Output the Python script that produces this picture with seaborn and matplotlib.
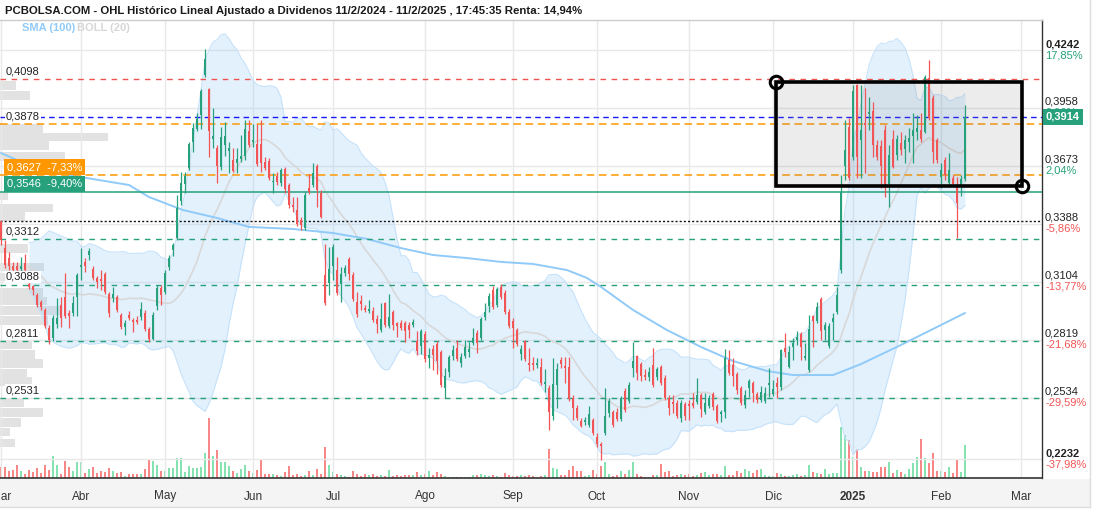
import numpy as np
import pandas as pd
import matplotlib
matplotlib.use("Agg")
import matplotlib.pyplot as plt
from matplotlib import font_manager
from matplotlib.patches import Rectangle
from matplotlib.lines import Line2D
import seaborn as sns

# ---------------- data ----------------
start_date = "2024-03-01"
end_date = "2025-03-03"
holidays = ["2024-03-29", "2024-04-01", "2024-05-01", "2024-12-25", "2024-12-26", "2025-01-01"]

opens = [
    .3397, .3269, .3220, .3181, .3181, .3166, .3196, .3092, .3082, .3038,
    .3004, .2965, .2876, .2827, .2896, .2989, .3028, .2950, .2950, .3028,
    .3176, .3201, .3235, .3166, .3122, .3117, .3142, .3043, .3024, .3028,
    .2940, .2881, .2940, .2916, .2916, .2930, .2950, .2871, .2822, .2984,
    .3073, .3053, .3176, .3260, .3318, .3500, .3584, .3662, .3790, .3854,
    .3923, .4119, .4051, .3805, .3761, .3667, .3775, .3746, .3702, .3687,
    .3707, .3721, .3844, .3790, .3780, .3780, .3692, .3697, .3594, .3623,
    .3589, .3658, .3579, .3481, .3456, .3407, .3368, .3564, .3579, .3672,
    .3540, .3137, .3097, .3181, .3161, .3092, .3146, .3215, .3137, .3004,
    .3009, .2975, .2960, .2960, .2920, .2867, .2999, .2886, .2955, .2901,
    .2901, .2901, .2891, .2891, .2812, .2788, .2847, .2729, .2773, .2798,
    .2758, .2581, .2660, .2739, .2778, .2704, .2739, .2758, .2802, .2852,
    .2827, .2930, .2984, .3063, .2989, .3078, .3048, .2955, .2911, .2867,
    .2748, .2812, .2704, .2704, .2694, .2685, .2601, .2581, .2444, .2596,
    .2719, .2690, .2685, .2532, .2483, .2419, .2414, .2400, .2424, .2341,
    .2306, .2360, .2459, .2463, .2463, .2429, .2567, .2517, .2680, .2739,
    .2699, .2645, .2635, .2694, .2635, .2685, .2630, .2532, .2513, .2508,
    .2434, .2503, .2503, .2508, .2513, .2547, .2463, .2493, .2552, .2493,
    .2454, .2463, .2719, .2694, .2650, .2581, .2498, .2581, .2606, .2552,
    .2522, .2517, .2596, .2552, .2606, .2586, .2778, .2685, .2783, .2817,
    .2847, .2729, .2670, .2935, .2911, .3019, .2867, .2788, .2906, .2955,
    .3161, .3672, .3864, .3716, .4070, .3800, .3884, .3928, .3943, .3775,
    .3771, .3849, .3584, .3805, .3726, .3785, .3756, .3790, .3820, .3839,
    .3849, .3839, .4105, .4006, .3800, .3618, .3702, .3589, .3613, .3579,
    .3579, .3608,
]
highs = [
    .3407, .3309, .3250, .3201, .3201, .3225, .3240, .3102, .3087, .3048,
    .3014, .2975, .2891, .2940, .3024, .3028, .3146, .2965, .3033, .3146,
    .3269, .3220, .3269, .3181, .3132, .3161, .3151, .3053, .3078, .3038,
    .2950, .2916, .2960, .2925, .2935, .3004, .2965, .2881, .2955, .3087,
    .3087, .3161, .3235, .3294, .3530, .3643, .3643, .3790, .3884, .3933,
    .4051, .4247, .4056, .3957, .3775, .3864, .3888, .3790, .3761, .3761,
    .3825, .3898, .3898, .3879, .3879, .3898, .3716, .3712, .3638, .3643,
    .3662, .3667, .3589, .3520, .3520, .3422, .3545, .3633, .3687, .3682,
    .3554, .3289, .3274, .3289, .3225, .3176, .3186, .3225, .3151, .3053,
    .3038, .2989, .3014, .2979, .2940, .2999, .3004, .3043, .2965, .2906,
    .2916, .2911, .2906, .2920, .2862, .2871, .2862, .2778, .2793, .2812,
    .2768, .2680, .2744, .2793, .2817, .2753, .2817, .2807, .2876, .2867,
    .2930, .2999, .3048, .3082, .3078, .3092, .3063, .2970, .2925, .2876,
    .2793, .2817, .2778, .2734, .2729, .2729, .2675, .2596, .2729, .2704,
    .2734, .2734, .2734, .2547, .2498, .2434, .2439, .2493, .2434, .2360,
    .2316, .2581, .2532, .2473, .2483, .2542, .2581, .2611, .2807, .2744,
    .2709, .2675, .2685, .2778, .2685, .2694, .2645, .2547, .2547, .2522,
    .2522, .2513, .2522, .2557, .2630, .2557, .2557, .2547, .2562, .2503,
    .2473, .2773, .2768, .2729, .2660, .2591, .2572, .2626, .2616, .2562,
    .2591, .2586, .2680, .2621, .2635, .2773, .2852, .2788, .2827, .2862,
    .2857, .2802, .2940, .2940, .3004, .3028, .2906, .2901, .2950, .3078,
    .3628, .3898, .3908, .4070, .4075, .4070, .4056, .4011, .3987, .3800,
    .3800, .3874, .3775, .3849, .3825, .3839, .3825, .3859, .3933, .3923,
    .3933, .4119, .4193, .4021, .3810, .3687, .3716, .3736, .3628, .3618,
    .3628, .3972,
]
lows = [
    .3284, .3171, .3161, .3151, .3156, .3156, .3151, .3068, .3038, .2979,
    .2965, .2876, .2798, .2812, .2876, .2881, .2925, .2876, .2935, .2935,
    .3112, .3151, .3210, .3112, .3073, .3063, .3043, .2930, .3004, .2955,
    .2871, .2842, .2916, .2857, .2896, .2916, .2862, .2807, .2817, .2965,
    .2989, .3043, .3161, .3230, .3309, .3481, .3540, .3653, .3741, .3844,
    .3854, .4110, .3716, .3761, .3589, .3653, .3721, .3638, .3643, .3638,
    .3692, .3702, .3766, .3766, .3672, .3643, .3653, .3603, .3540, .3579,
    .3574, .3540, .3466, .3446, .3377, .3358, .3358, .3535, .3569, .3471,
    .3417, .2989, .3038, .3112, .3038, .3004, .3132, .3112, .3009, .2930,
    .2965, .2955, .2950, .2906, .2852, .2857, .2881, .2876, .2867, .2832,
    .2867, .2807, .2827, .2881, .2744, .2748, .2709, .2680, .2670, .2650,
    .2586, .2532, .2635, .2719, .2714, .2685, .2729, .2734, .2793, .2753,
    .2817, .2916, .2955, .2970, .2979, .3019, .2945, .2876, .2778, .2788,
    .2719, .2714, .2665, .2670, .2680, .2596, .2562, .2375, .2424, .2483,
    .2680, .2606, .2517, .2424, .2424, .2390, .2400, .2390, .2350, .2291,
    .2228, .2350, .2439, .2390, .2419, .2419, .2463, .2508, .2635, .2621,
    .2616, .2621, .2616, .2586, .2621, .2596, .2522, .2449, .2459, .2434,
    .2414, .2424, .2424, .2483, .2503, .2439, .2454, .2483, .2473, .2409,
    .2414, .2434, .2645, .2591, .2552, .2498, .2483, .2537, .2513, .2508,
    .2513, .2508, .2537, .2542, .2532, .2572, .2734, .2680, .2719, .2793,
    .2719, .2719, .2660, .2783, .2901, .2817, .2817, .2778, .2817, .2945,
    .3146, .3603, .3603, .3702, .3613, .3613, .3638, .3849, .3716, .3702,
    .3564, .3520, .3471, .3662, .3702, .3726, .3687, .3741, .3687, .3800,
    .3790, .3834, .3898, .3687, .3687, .3564, .3603, .3579, .3574, .3318,
    .3525, .3599,
]
closes = [
    .3309, .3186, .3181, .3161, .3161, .3181, .3161, .3078, .3063, .2989,
    .2979, .2886, .2817, .2925, .2925, .2925, .2935, .2935, .2999, .3137,
    .3186, .3181, .3255, .3122, .3102, .3107, .3053, .2950, .3043, .2965,
    .2881, .2901, .2925, .2906, .2906, .2970, .2871, .2822, .2940, .3073,
    .3038, .3146, .3220, .3284, .3466, .3589, .3623, .3780, .3859, .3903,
    .4041, .4198, .3844, .3820, .3672, .3815, .3820, .3761, .3648, .3707,
    .3721, .3854, .3775, .3800, .3682, .3687, .3662, .3613, .3599, .3594,
    .3653, .3559, .3481, .3471, .3387, .3382, .3530, .3545, .3638, .3554,
    .3422, .2999, .3166, .3274, .3048, .3142, .3171, .3142, .3019, .2945,
    .2994, .2965, .2970, .2916, .2896, .2920, .2891, .2930, .2891, .2886,
    .2876, .2862, .2867, .2906, .2763, .2862, .2724, .2744, .2744, .2714,
    .2596, .2640, .2734, .2768, .2724, .2734, .2783, .2773, .2827, .2802,
    .2920, .2955, .3033, .2979, .3068, .3028, .2955, .2886, .2876, .2798,
    .2773, .2724, .2694, .2694, .2704, .2606, .2611, .2463, .2601, .2675,
    .2699, .2680, .2527, .2483, .2434, .2395, .2424, .2454, .2360, .2306,
    .2296, .2444, .2517, .2400, .2429, .2532, .2473, .2596, .2714, .2655,
    .2640, .2635, .2660, .2596, .2675, .2606, .2532, .2483, .2503, .2444,
    .2508, .2444, .2493, .2493, .2547, .2478, .2508, .2532, .2488, .2419,
    .2463, .2729, .2655, .2640, .2572, .2508, .2547, .2616, .2557, .2522,
    .2562, .2557, .2606, .2576, .2586, .2768, .2758, .2758, .2802, .2832,
    .2783, .2739, .2871, .2911, .2979, .2862, .2891, .2886, .2925, .3038,
    .3545, .3751, .3613, .4041, .3716, .3849, .3874, .3938, .3775, .3716,
    .3672, .3564, .3726, .3667, .3805, .3751, .3800, .3810, .3849, .3859,
    .3805, .4110, .3908, .3741, .3702, .3653, .3628, .3653, .3584, .3490,
    .3608, .3914,
]
volumes = [
    12, 11.7, 8, 9, 14, 7.7, 5, 9, 7, 11,
    5.7, 14, 9, 25, 14, 5, 19, 11.7, 7.7, 17.7,
    17.7, 5.7, 10, 11.7, 5.7, 7.7, 6.7, 11, 7.7, 5.7,
    6.7, 2.3, 5, 4.3, 4.3, 5, 10.3, 20, 19, 14.3,
    7.3, 7.7, 11, 11, 22.3, 22.7, 6.7, 13.3, 11, 11,
    12.3, 27.7, 66.7, 25, 31, 18.3, 18.3, 13.3, 7.7, 5.7,
    10, 14, 8.3, 5.7, 9, 21, 4.3, 4, 4.3, 3.7,
    1.7, 7, 13.3, 3.3, 5, 1.7, 3.3, 8.3, 3, 9.7,
    4.3, 35, 15, 6.7, 5, 3.3, 1.7, 1, 7.7, 5,
    2.3, 5, 3.7, 5, 2.3, 3.7, 1.7, 9, 1.7, 3.7,
    1.7, 3.3, 3, 3, 6.3, 3.3, 5, 8.3, 3.7, 6.3,
    4, 2.3, 1, 1, 0.7, 0.8, 0.8, 0.8, 3.7, 3.3,
    4.3, 3.7, 1.7, 3, 1.7, 1, 5.7, 3.3, 2.3, 1.7,
    3.3, 2.3, 3.3, 1.7, 1, 1.7, 3.3, 31.7, 11, 10,
    3.3, 3.3, 9, 13.3, 7.7, 7.7, 1.7, 3.7, 9, 5,
    13.3, 17.7, 4.3, 2.3, 3.3, 7.7, 4.3, 9, 17.7, 4.3,
    1.7, 1, 1, 3.3, 3, 15.7, 6.3, 8.3, 2, 3,
    4.3, 3.3, 4.3, 1.7, 3, 5.7, 7, 3.3, 5, 4,
    3.7, 13.7, 3.7, 3.3, 7.7, 5.7, 10.3, 8.3, 5.7, 9,
    10.3, 3.3, 1.7, 1.7, 5.7, 4.3, 2.3, 1.7, 3.3, 4.3,
    1.7, 3, 15, 6.3, 5.7, 4.3, 10.3, 4.3, 5.7, 5.7,
    56.7, 47.7, 42.3, 23.3, 31.7, 12.3, 8.3, 8.3, 7, 7,
    11.7, 12.3, 18.3, 5.7, 9, 6.3, 5, 10, 16.7, 23.3,
    43.3, 21.7, 16.7, 28.3, 7.7, 7.7, 6.7, 12.3, 5.7, 20,
    6.3, 36.7,
]

# SMA(100) (trading-day index, value)
sma_day = [0, 9.75, 20, 32, 37, 45.5, 54, 62, 73, 83, 91.5, 100, 108, 116.5, 125,
           133, 141.5, 146.5, 150, 158, 166.5, 175, 183, 191.5, 198, 208, 215, 225, 235, 241]
sma_value = [0.3736, 0.3653, 0.3618, 0.3579, 0.3520, 0.3456, 0.3417, 0.3373, 0.3363, 0.3343,
             0.3314, 0.3269, 0.3235, 0.3220, 0.3201, 0.3191, 0.3161, 0.3122, 0.3078, 0.2965,
             0.2866, 0.2783, 0.2714, 0.2665, 0.2645, 0.2645, 0.2699, 0.2793, 0.2891, 0.2950]

# volume-at-price profile (price level, relative volume)
vp_price = [0.4070, 0.4021, 0.3859, 0.3815, 0.3771, 0.3717, 0.3525, 0.3466, 0.3422, 0.3269,
            0.3176, 0.3127, 0.3053, 0.3009, 0.2960, 0.2911, 0.2793, 0.2744, 0.2700, 0.2655,
            0.2611, 0.2508, 0.2463, 0.2414, 0.2365, 0.2311]
vp_volume = [16, 30, 43, 108, 49, 65, 8, 53, 25, 28,
             44, 40, 43, 47, 62, 48, 32, 35, 43, 27,
             32, 24, 43, 21, 10, 15]

left_levels = [0.4098, 0.3878, 0.3312, 0.3088, 0.2811, 0.2531]
left_labels = ["0,4098", "0,3878", "0,3312", "0,3088", "0,2811", "0,2531"]
axis_prices = [0.4242, 0.3958, 0.3673, 0.3388, 0.3104, 0.2819, 0.2534, 0.2232]
axis_price_labels = ["0,4242", "0,3958", "0,3673", "0,3388", "0,3104", "0,2819", "0,2534", "0,2232"]
axis_pct_labels = ["17,85%", "9,96%", "2,04%", "-5,86%", "-13,77%", "-21,68%", "-29,59%", "-37,98%"]
month_names = {1: "2025", 2: "Feb", 3: "Mar", 4: "Abr", 5: "May", 6: "Jun", 7: "Jul",
               8: "Ago", 9: "Sep", 10: "Oct", 11: "Nov", 12: "Dic"}

last_price = 0.3914
last_label = "0,3914"
resistance_red = 0.4098
orange_levels = [0.3878, 0.3627]
green_solid_level = 0.3546
dotted_level = 0.3402
support_levels = [0.3312, 0.3088, 0.2811, 0.2531]
tag_levels = [0.3627, 0.3546]
tag_texts = ["0,3627  -7,33%", "0,3546  -9,40%"]
rect_days = [193.75, 255.25]
rect_prices = [0.4085, 0.3574]

title = ("PCBOLSA.COM - OHL Histórico Lineal Ajustado a Dividenos 11/2/2024 - 11/2/2025 , "
         "17:45:35 Renta: 14,94%")

# ---------------- style ----------------
sns.set_theme(style="white")
names = {f.name for f in font_manager.fontManager.ttflist}
narrow = "Liberation Sans Narrow" if "Liberation Sans Narrow" in names else "Liberation Sans"
plt.rcParams["font.family"] = ["Liberation Sans", "DejaVu Sans"]

GREEN = "#26a17b"
RED = "#f25555"
VGREEN = "#86e2b0"
VRED = "#f88787"

dates = pd.bdate_range(start_date, end_date)
dates = dates[~dates.isin(pd.to_datetime(holidays))]
n = len(closes)
idx = np.arange(n)
month_pos = [0] + [i for i in range(1, len(dates)) if dates[i].month != dates[i - 1].month]
month_lab = [month_names[dates[i].month] for i in month_pos]

o = np.array(opens); h = np.array(highs); l = np.array(lows); c = np.array(closes)
up = c >= o

cs = pd.Series(c)
mid = cs.rolling(20, min_periods=8).mean()
sd = cs.rolling(20, min_periods=8).std(ddof=0)
upper = mid + 2 * sd
lower = mid - 2 * sd

W, H = 1096, 512
fig = plt.figure(figsize=(W / 100, H / 100), dpi=100)
fig.patch.set_facecolor("white")
rect = [0 / W, (H - 478) / H, 1042 / W, (478 - 20) / H]
XL = (-0.25, 260.25)
YL = (0.2139, 0.4390)

# bottom strip
fig.patches.append(Rectangle((0, (H - 507) / H), 1090 / W, 28 / H, transform=fig.transFigure,
                             facecolor="#f4f4f4", edgecolor="none", zorder=0))
fig.lines.append(Line2D([1090 / W, 1090 / W], [(H - 507) / H, 1], transform=fig.transFigure,
                        color="#dddddd", lw=1))
fig.lines.append(Line2D([0, 1090 / W], [(H - 507) / H, (H - 507) / H], transform=fig.transFigure,
                        color="#dddddd", lw=1))

# volume panel
axv = fig.add_axes(rect, zorder=1)
axv.bar(idx, volumes, width=0.7, color=np.where(up, VGREEN, VRED), linewidth=0)
axv.set_xlim(XL); axv.set_ylim(0, 509); axv.axis("off")

# volume profile
axp = fig.add_axes(rect, zorder=2)
axp.barh(vp_price, vp_volume, height=0.0044, color="#e2e2e2", linewidth=0)
axp.set_xlim(0, 1042); axp.set_ylim(YL); axp.axis("off")

# main price panel
ax = fig.add_axes(rect, zorder=3)
ax.patch.set_alpha(0)
ax.set_xlim(XL); ax.set_ylim(YL)

for m in month_pos:
    ax.axvline(m, color="#e8e8e8", lw=1, zorder=0)
for p in axis_prices:
    ax.axhline(p, color="#e8e8e8", lw=1, zorder=0)

ax.fill_between(idx, lower, upper, color="#90caf9", alpha=0.25, lw=0, zorder=1)
ax.plot(idx, upper, color="#c6e2fa", lw=0.8, zorder=1)
ax.plot(idx, lower, color="#c6e2fa", lw=0.8, zorder=1)
sns.lineplot(x=idx, y=mid, ax=ax, color="#d8d8d8", lw=1.2, zorder=2, legend=False)
sns.lineplot(x=sma_day, y=sma_value, ax=ax, color="#90caf9", lw=1.4, zorder=2, legend=False)

# level lines
ax.axhline(resistance_red, color="#ef5350", lw=1, ls=(0, (4, 4)), zorder=3)
ax.axhline(last_price, color="#1a1aff", lw=1, ls=(0, (4, 3)), zorder=3)
for lv in orange_levels:
    ax.axhline(lv, color="#ff9800", lw=1.1, ls=(0, (5, 3)), zorder=3)
ax.axhline(green_solid_level, color=GREEN, lw=1.1, zorder=3)
ax.axhline(dotted_level, color="#111111", lw=1, ls=(0, (1.5, 1.5)), zorder=3)
for lv in support_levels:
    ax.axhline(lv, color=GREEN, lw=1, ls=(0, (4, 4)), zorder=3)

# rectangle annotation
ax.add_patch(Rectangle((rect_days[0], rect_prices[1]), rect_days[1] - rect_days[0],
                       rect_prices[0] - rect_prices[1], facecolor="#808080", alpha=0.15,
                       edgecolor="none", zorder=3))
ax.add_patch(Rectangle((rect_days[0], rect_prices[1]), rect_days[1] - rect_days[0],
                       rect_prices[0] - rect_prices[1], facecolor="none",
                       edgecolor="black", lw=2.6, zorder=6))
ax.plot(rect_days, rect_prices, "o", ms=9, mfc="none", mec="black", mew=2.2, zorder=7)

# candles
ccol = np.where(up, GREEN, RED)
ax.vlines(idx, l, h, colors=ccol, lw=0.9, zorder=4)
ax.bar(idx, np.maximum(np.abs(c - o), 0.0004), bottom=np.minimum(o, c), width=0.72,
       color=ccol, linewidth=0, zorder=5)

# spines
ax.spines["left"].set_visible(False)
ax.spines["top"].set_color("#cccccc"); ax.spines["top"].set_linewidth(1)
ax.spines["right"].set_color("#333333"); ax.spines["right"].set_linewidth(1)
ax.spines["bottom"].set_color("#333333"); ax.spines["bottom"].set_linewidth(1.2)
ax.set_yticks([])
ax.set_xticks(month_pos)
ax.set_xticklabels(month_lab, family=narrow, fontsize=8.5, color="#333333")
for t in ax.get_xticklabels():
    if t.get_text() == "2025":
        t.set_fontweight("bold")
ax.tick_params(axis="x", length=0, pad=9)
ax.set_xlabel(""); ax.set_ylabel("")

# right axis labels
for k, (p, lab, pct) in enumerate(zip(axis_prices, axis_price_labels, axis_pct_labels)):
    bold = k in (0, len(axis_prices) - 1)
    ax.annotate(lab, xy=(1, p), xycoords=("axes fraction", "data"), xytext=(3, 1),
                textcoords="offset pixels", ha="left", va="bottom", fontsize=8,
                color="#222222", fontweight="bold" if bold else "normal", annotation_clip=False)
    ax.annotate(pct, xy=(1, p), xycoords=("axes fraction", "data"), xytext=(3, 0),
                textcoords="offset pixels", ha="left", va="top", fontsize=8,
                color=RED if pct.startswith("-") else GREEN, annotation_clip=False)
ax.annotate(last_label, xy=(1, last_price), xycoords=("axes fraction", "data"), xytext=(4, 0),
            textcoords="offset pixels", ha="left", va="center", fontsize=8, color="white",
            fontweight="bold", annotation_clip=False, zorder=20,
            bbox=dict(boxstyle="square,pad=0.25", fc=GREEN, ec="none"))

# left level labels
for lv, lab in zip(left_levels, left_labels):
    ax.annotate(lab, xy=(0, lv), xycoords=("axes fraction", "data"), xytext=(6, 3),
                textcoords="offset pixels", ha="left", va="bottom", fontsize=8, color="#222222",
                zorder=8, bbox=dict(boxstyle="square,pad=0.1", fc="white", ec="none"))
for lv, txt, col in zip(tag_levels, tag_texts, ["#ff9800", GREEN]):
    ax.annotate(txt, xy=(0, lv), xycoords=("axes fraction", "data"), xytext=(7, 3),
                textcoords="offset pixels", ha="left", va="bottom", fontsize=8, color="white",
                zorder=9, bbox=dict(boxstyle="square,pad=0.25", fc=col, ec="none"))

# title and legend
fig.text(5 / W, 1 - 10.5 / H, title, fontsize=8.2, fontweight="bold", color="#1a1a1a",
         va="center", ha="left", family=[narrow, "DejaVu Sans"])
fig.text(22 / W, 1 - 28 / H, "SMA (100)", fontsize=8, fontweight="bold", color="#90caf9",
         va="center", family=[narrow, "DejaVu Sans"])
fig.text(77 / W, 1 - 28 / H, "BOLL (20)", fontsize=8, fontweight="bold", color="#d6d6d6",
         va="center", family=[narrow, "DejaVu Sans"])

fig.savefig("out.png", dpi=100)
